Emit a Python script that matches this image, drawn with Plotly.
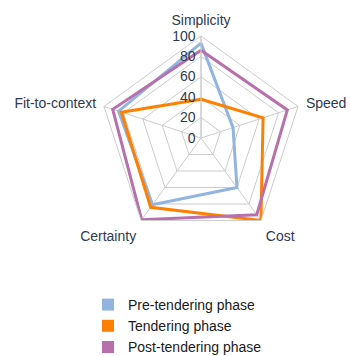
import plotly.graph_objects as go

# Evaluation criteria around the radar, clockwise from the top
criteria = ["Simplicity", "Speed", "Cost", "Certainty", "Fit-to-context"]

# Scores (0-100) for each procurement phase
pre_tendering = [93, 33, 60, 81, 85]
tendering = [38, 64, 100, 84, 82]
post_tendering = [86, 89, 93, 99, 91]

series_names = ["Pre-tendering phase", "Tendering phase", "Post-tendering phase"]
series_values = [pre_tendering, tendering, post_tendering]
series_colors = ["#92b4e0", "#ff8000", "#b870ad"]

radial_ticks = [0, 20, 40, 60, 80, 100]

W, H = 350, 356
cx, cy, R = 201, 138, 102  # polar centre and radius in pixels

fig = go.Figure()

for name, vals, col in zip(series_names, series_values, series_colors):
    fig.add_trace(go.Scatterpolar(
        r=vals + vals[:1],
        theta=criteria + criteria[:1],
        mode="lines",
        line=dict(color=col, width=3),
        name=name,
        showlegend=False,
        hoverinfo="skip",
    ))

# legend entries with square swatches
for name, col in zip(series_names, series_colors):
    fig.add_trace(go.Scatterpolar(
        r=[None], theta=[criteria[0]],
        mode="markers",
        marker=dict(symbol="square", size=12, color=col),
        name=name,
        showlegend=True,
    ))

grid = "#cccccc"
fig.update_layout(
    width=W, height=H,
    margin=dict(l=0, r=0, t=0, b=0, autoexpand=False),
    paper_bgcolor="white",
    font=dict(family="Liberation Sans, Arial, sans-serif", size=14, color="#2d3a4f"),
    polar=dict(
        domain=dict(x=[(cx - R) / W, (cx + R) / W],
                    y=[(H - cy - R) / H, (H - cy + R) / H]),
        bgcolor="white",
        gridshape="linear",
        angularaxis=dict(
            direction="clockwise", rotation=90,
            categoryorder="array", categoryarray=criteria,
            showline=True, linecolor=grid, linewidth=1,
            gridcolor=grid, gridwidth=1,
            # invisible ticks keep the category labels clear of the outline
            ticks="outside", ticklen=5, tickcolor="rgba(0,0,0,0)",
            tickfont=dict(size=14, color="#2d3a4f"),
        ),
        radialaxis=dict(
            range=[0, 100], tickvals=radial_ticks,
            angle=90, tickangle=90, side="counterclockwise",
            showline=True, linecolor=grid, linewidth=1,
            gridcolor=grid, gridwidth=1,
            ticks="", tickfont=dict(size=14, color="#2d3a4f"),
        ),
    ),
    legend=dict(
        orientation="v",
        x=88 / W, xanchor="left",
        y=(H - 289) / H, yanchor="top",
        font=dict(size=14, color="#1a1a1a"),
        itemwidth=30,
        bgcolor="rgba(0,0,0,0)",
    ),
)

fig.write_html("out.html")
